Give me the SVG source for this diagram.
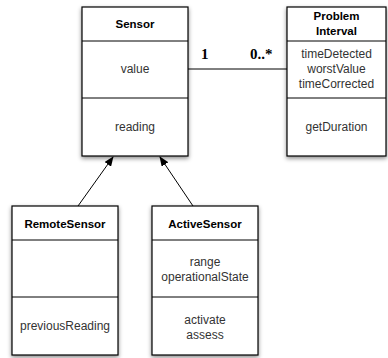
<svg xmlns="http://www.w3.org/2000/svg" width="388" height="358" viewBox="0 0 388 358">
<defs>
<filter id="sh" x="-20%" y="-20%" width="140%" height="140%">
<feDropShadow dx="0" dy="2" stdDeviation="2" flood-color="#000" flood-opacity="0.45"/>
</filter>
<marker id="arr" markerWidth="10" markerHeight="8" refX="9" refY="4" orient="auto" markerUnits="userSpaceOnUse">
<path d="M0,0 L10,4 L0,8 Z" fill="#000"/>
</marker>
</defs>
<style>
.box{fill:#fff;stroke:#000;stroke-width:1.2;filter:url(#sh)}
.sep{stroke:#000;stroke-width:1}
.t{font-family:"Liberation Sans",Arial,sans-serif;font-size:12px;fill:#333;text-anchor:middle}
.h{font-family:"Liberation Sans",Arial,sans-serif;font-size:11.5px;font-weight:bold;fill:#000;text-anchor:middle}
.m{font-family:"Liberation Serif","Times New Roman",serif;font-size:15px;font-weight:bold;fill:#000}
.c{stroke:#000;stroke-width:1;fill:none}
</style>
<g id="connectors">
<line class="c" x1="188" y1="69" x2="287" y2="69"/>
<text class="m" x="201" y="59">1</text>
<text class="m" x="250" y="59">0..*</text>
<line class="c" x1="78" y1="206" x2="113" y2="157" marker-end="url(#arr)"/>
<line class="c" x1="193" y1="206" x2="160" y2="157" marker-end="url(#arr)"/>
</g>
<g id="Sensor">
<rect class="box" x="82" y="7" width="106" height="149"/>
<line class="sep" x1="82" y1="41" x2="188" y2="41"/>
<line class="sep" x1="82" y1="98" x2="188" y2="98"/>
<text class="h" x="135" y="28">Sensor</text>
<text class="t" x="135" y="73">value</text>
<text class="t" x="135" y="131">reading</text>
</g>
<g id="ProblemInterval">
<rect class="box" x="287" y="7" width="99" height="149"/>
<line class="sep" x1="287" y1="41" x2="386" y2="41"/>
<line class="sep" x1="287" y1="98" x2="386" y2="98"/>
<text class="h" x="336.5" y="20">Problem</text>
<text class="h" x="336.5" y="35">Interval</text>
<text class="t" x="336.5" y="58">timeDetected</text>
<text class="t" x="336.5" y="73">worstValue</text>
<text class="t" x="336.5" y="88">timeCorrected</text>
<text class="t" x="336.5" y="131">getDuration</text>
</g>
<g id="RemoteSensor">
<rect class="box" x="12" y="206" width="106" height="149"/>
<line class="sep" x1="12" y1="240" x2="118" y2="240"/>
<line class="sep" x1="12" y1="297" x2="118" y2="297"/>
<text class="h" x="65" y="228">RemoteSensor</text>
<text class="t" x="65" y="330">previousReading</text>
</g>
<g id="ActiveSensor">
<rect class="box" x="152" y="206" width="106" height="149"/>
<line class="sep" x1="152" y1="240" x2="258" y2="240"/>
<line class="sep" x1="152" y1="297" x2="258" y2="297"/>
<text class="h" x="205" y="228">ActiveSensor</text>
<text class="t" x="205" y="266">range</text>
<text class="t" x="205" y="281">operationalState</text>
<text class="t" x="205" y="324">activate</text>
<text class="t" x="205" y="339">assess</text>
</g>
</svg>
